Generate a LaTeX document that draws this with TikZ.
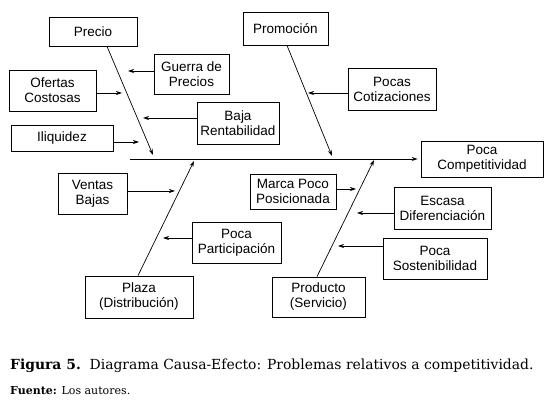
\documentclass[tikz,border=0pt]{standalone}
\usepackage{fontspec}
\newfontfamily\boxfont{Liberation Sans}
\newfontfamily\piefont{DejaVu Serif}
\usepackage{tikz}
\usetikzlibrary{arrows.meta}
\usetikzlibrary{calc}
\tikzset{
	causa/.style={
		draw, rectangle, align=center, inner sep=1pt,
		line width=0.8pt,
		font=\boxfont\fontsize{13.5}{15}\selectfont,
	},
	espina/.style={
		line width=0.7pt,
		-{Stealth[length=6pt,width=4pt]},
	},
}

\begin{document}
\begin{tikzpicture}[x=1pt,y=-1pt]
	\useasboundingbox (0,0) rectangle (550,403);

	% Boxes
	\node[causa, minimum width=88pt, minimum height=29pt] (precio) at (93,31.5) {Precio};
	\node[causa, minimum width=75pt, minimum height=40pt] (guerra) at (191.5,74) {Guerra de\\Precios};
	\node[causa, minimum width=87pt, minimum height=41pt] (ofertas) at (52.5,90.5) {Ofertas\\Costosas};
	\node[causa, minimum width=82pt, minimum height=42pt] (baja) at (238,123) {Baja\\Rentabilidad};
	\node[causa, minimum width=102pt, minimum height=26pt] (iliquidez) at (62,138) {Iliquidez};
	\node[causa, minimum width=85pt, minimum height=33pt] (promocion) at (285.5,28.5) {Promoción};
	\node[causa, minimum width=88pt, minimum height=42pt] (cotizaciones) at (392,89) {Pocas\\Cotizaciones};
	\node[causa, minimum width=122pt, minimum height=36pt] (efecto) at (482,159) {Poca\\Competitividad};
	\node[causa, minimum width=69pt, minimum height=41pt] (ventas) at (92.5,193.5) {Ventas\\Bajas};
	\node[causa, minimum width=89pt, minimum height=41pt] (participacion) at (236.5,242.5) {Poca\\Participación};
	\node[causa, minimum width=108pt, minimum height=42pt] (plaza) at (139,297) {Plaza\\(Distribución)};
	\node[causa, minimum width=86pt, minimum height=35pt] (marca) at (293,191.5) {Marca Poco\\Posicionada};
	\node[causa, minimum width=97pt, minimum height=42pt] (diferenciacion) at (442.5,208) {Escasa\\Diferenciación};
	\node[causa, minimum width=104pt, minimum height=41pt] (sostenibilidad) at (435,258.5) {Poca\\Sostenibilidad};
	\node[causa, minimum width=93pt, minimum height=40pt] (producto) at (318.5,297) {Producto\\(Servicio)};

	% Spine and main bones
	\coordinate (cola) at (130,159);
	\coordinate (tprecio) at (153,155);
	\coordinate (tpromocion) at (332,156);
	\coordinate (tplaza) at (194,161);
	\coordinate (tproducto) at (374,160);
	\draw[espina, shorten >=3pt] (cola) -- (efecto.west);
	\draw[espina] ([xshift=14pt]precio.south) -- (tprecio);
	\draw[espina] ([xshift=1.5pt]promocion.south) -- (tpromocion);
	\draw[espina] ([xshift=-1pt]plaza.north) -- (tplaza);
	\draw[espina] ([xshift=-1.5pt]producto.north) -- (tproducto);

	% Causes
	\coordinate (tguerra) at (128,71);
	\coordinate (tofertas) at (122,93);
	\coordinate (tbaja) at (143,118);
	\coordinate (tiliquidez) at (139,142);
	\coordinate (tcotizaciones) at (308,93);
	\coordinate (tventas) at (175,191);
	\coordinate (tparticipacion) at (163,238);
	\coordinate (tmarca) at (356,189);
	\coordinate (tdiferenciacion) at (357,213);
	\coordinate (tsostenibilidad) at (338,246);
	\draw[espina] (guerra.west |- tguerra) -- (tguerra);
	\draw[espina] (ofertas.east |- tofertas) -- (tofertas);
	\draw[espina] (baja.west |- tbaja) -- (tbaja);
	\draw[espina] (iliquidez.east |- tiliquidez) -- (tiliquidez);
	\draw[espina] (cotizaciones.west |- tcotizaciones) -- (tcotizaciones);
	\draw[espina] (ventas.east |- tventas) -- (tventas);
	\draw[espina] (participacion.west |- tparticipacion) -- (tparticipacion);
	\draw[espina] (marca.east |- tmarca) -- (tmarca);
	\draw[espina] (diferenciacion.west |- tdiferenciacion) -- (tdiferenciacion);
	\draw[espina] (sostenibilidad.west |- tsostenibilidad) -- (tsostenibilidad);

	% Caption
	\node[anchor=base west, inner sep=0pt, font=\piefont\fontsize{13.9}{16}\selectfont] (titulo) at (10,370)
		{\textbf{Figura 5.}\ \ Diagrama Causa-Efecto: Problemas relativos a competitividad.};
	\node[anchor=base west, inner sep=0pt, font=\piefont\fontsize{11}{13}\selectfont] (fuente) at (10,395)
		{\textbf{Fuente:} Los autores.};
\end{tikzpicture}
\end{document}
